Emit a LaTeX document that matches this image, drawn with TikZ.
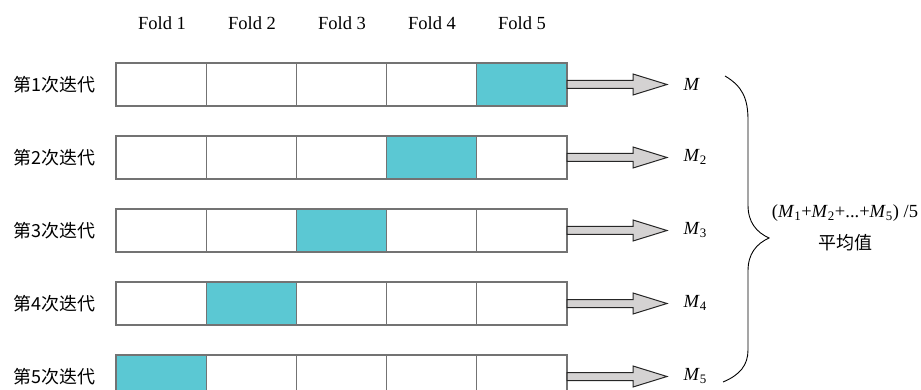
\documentclass[tikz,border=0pt]{standalone}
\usepackage{fontspec}
\setmainfont{Liberation Serif}
\newfontfamily\cjk{Noto Sans CJK SC}
\definecolor{teal1}{HTML}{5BC8D3}
\definecolor{arrowfill}{HTML}{D4D2D2}
\begin{document}
\begin{tikzpicture}[x=1pt,y=-1pt,
  cell/.style={draw=gray!90!black,line width=1.3pt,minimum width=90.2pt,minimum height=43pt,inner sep=0pt,outer sep=0pt,anchor=north west},
  hit/.style={cell,fill=teal1},
  lbl/.style={font=\fontsize{18.5}{22}\selectfont},
  rowlbl/.style={font=\fontsize{18}{22}\selectfont\cjk,anchor=east},
  fat/.style={draw=black!85,fill=arrowfill,line width=1pt,line join=miter}]
\useasboundingbox (0,0) rectangle (921,390);
\clip (0,0) rectangle (921,390);
\foreach \c [count=\i] in {162,252,342,432,522}
  \node[lbl] (f\i) at (\c,23) {Fold \i};
\foreach \r [count=\k] in {63,136,209,282,355}{
  \foreach \j in {1,...,5}{
    \pgfmathtruncatemacro{\hitcol}{6-\k}
    \ifnum\j=\hitcol
      \node[hit] (c\k\j) at ({116+(\j-1)*90.2},\r) {};
    \else
      \node[cell] (c\k\j) at ({116+(\j-1)*90.2},\r) {};
    \fi
  }
  \node[rowlbl] (l\k) at (99,\r+22) {第\k 次迭代};
  \draw[fat] ([yshift=4pt]c\k5.east) -- ++(66,0) -- ++(0,-6.5) -- ++(34,10.5) -- ++(-34,10.5) -- ++(0,-6.5) -- ++(-66,0) -- cycle;
}
\node[lbl,anchor=west] (m1) at (680,84) {\textit{M}};
\foreach \k/\r in {2/157,3/230,4/303,5/376}
  \node[lbl,anchor=west] (m\k) at (680,\r) {\textit{M}\textsubscript{\k}};
\draw[line width=0.9pt] (725,76) .. controls (742,86) and (748,98) .. (748,120)
  -- (748,205) .. controls (748,222) and (756,232) .. (769,238)
  .. controls (756,244) and (748,254) .. (748,271)
  -- (748,350) .. controls (748,365) and (740,375) .. (723,382);
\node[lbl] (avg) at (845,213) {(\textit{M}\textsubscript{1}+\textit{M}\textsubscript{2}+...+\textit{M}\textsubscript{5}) /5};
\node[lbl,font=\fontsize{18}{22}\selectfont\cjk] (pj) at (845,243) {平均值};
\end{tikzpicture}
\end{document}
